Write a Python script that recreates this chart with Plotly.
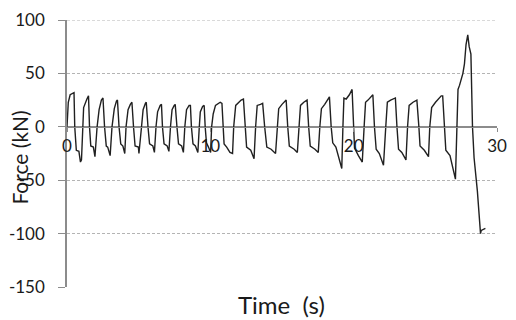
import plotly.graph_objects as go

# Time (s) and force (kN)
time_s = [
    0.00, 0.09, 0.22, 0.49, 0.54, 0.65, 0.83, 0.94, 1.01,
    1.08, 1.16, 1.39, 1.50, 1.57, 1.66, 1.84, 1.95,
    2.10, 2.24, 2.40, 2.51, 2.62, 2.74, 2.84, 3.01,
    3.14, 3.30, 3.45, 3.52, 3.63, 3.75, 3.90, 4.03,
    4.12, 4.26, 4.42, 4.53, 4.64, 4.75, 4.98, 5.02,
    5.20, 5.31, 5.47, 5.53, 5.65, 5.76, 5.99, 6.10,
    6.21, 6.32, 6.50, 6.59, 6.66, 6.77, 6.99, 7.11,
    7.22, 7.33, 7.48, 7.55, 7.67, 7.78, 8.00, 8.12,
    8.22, 8.34, 8.52, 8.61, 8.68, 8.79, 8.96, 9.13,
    9.23, 9.30, 9.46, 9.57, 9.64, 9.73, 9.87, 10.02,
    10.09, 10.20, 10.36, 10.69, 10.81, 10.87, 10.96, 11.14, 11.37, 11.55,
    11.63, 11.77, 12.15, 12.31, 12.44, 12.53, 12.82, 13.05,
    13.16, 13.27, 13.50, 13.65, 13.79, 13.94, 14.24, 14.55,
    14.68, 14.77, 15.00, 15.29, 15.40, 15.51, 15.85, 16.07,
    16.19, 16.29, 16.52, 16.75, 16.86, 16.97, 17.30, 17.53,
    17.64, 17.75, 17.98, 18.31, 18.43, 18.54, 18.76, 18.98, 19.17,
    19.25, 19.32, 19.48, 19.70, 19.89, 19.99, 20.06, 20.33, 20.60,
    20.73, 20.83, 21.00, 21.34, 21.45, 21.57, 21.79, 22.08,
    22.24, 22.35, 22.58, 22.91, 23.02, 23.13, 23.36, 23.65,
    23.76, 23.87, 24.14, 24.41, 24.55, 24.63, 24.93, 25.22,
    25.31, 25.44, 25.71, 26.11, 26.21, 26.34, 26.43, 26.72, 27.10,
    27.28, 27.39, 27.62, 27.73, 27.84, 27.96, 28.06, 28.18,
    28.29, 28.40, 28.63, 28.85, 28.90, 29.19,
]
force_kn = [
    0, 23, 30, 32, 0, -22, -23, -33, -31,
    0, 18, 26, 29, 0, -18, -19, -28,
    0, 16, 25, 27, 0, -18, -19, -27,
    0, 17, 24, 25, 0, -16, -18, -25,
    0, 16, 21, 23, 0, -18, -19, -25,
    0, 16, 22, 23, 0, -16, -18, -24,
    0, 14, 20, 21, 0, -16, -18, -23,
    0, 16, 20, 21, 0, -16, -18, -24,
    0, 16, 20, 20, 0, -16, -18, -24,
    0, 14, 19, 20, 0, -15, -19, -24,
    0, 12, 20, 23, 22, 0, -16, -19, -24, -25,
    0, 20, 25, 26, 0, -19, -22, -30,
    0, 20, 21, 22, 0, -19, -21, -25,
    0, 17, 21, 25, 0, -18, -21, -24,
    0, 20, 23, 25, 0, -18, -21, -24,
    0, 17, 21, 28, 0, -15, -19, -30, -39,
    0, 27, 26, 30, 35, 0, -20, -27, -33,
    0, 23, 25, 30, 0, -21, -25, -36,
    0, 23, 25, 27, 0, -21, -24, -31,
    0, 20, 23, 25, 0, -18, -22, -28,
    0, 18, 23, 29, 29, 0, -22, -27, -49,
    35, 39, 50, 59, 77, 86, 75, 68,
    0, -29, -60, -100, -97, -95,
]

x_ticks = [0, 10, 20, 30]
y_ticks = [-150, -100, -50, 0, 50, 100]
y_top = 100

AXIS_GREY = "#8c8c8c"
GRID_GREY = "#b4b4b4"
FONT = "Lato"

fig = go.Figure()
fig.add_trace(go.Scatter(
    x=time_s, y=force_kn, mode="lines",
    line=dict(color="#202020", width=1.4),
    showlegend=False, hoverinfo="skip",
))

# top gridline (Plotly drops the gridline that sits on the plot edge)
fig.add_shape(type="line", xref="paper", x0=0, x1=1, yref="y", y0=y_top, y1=y_top,
              line=dict(color=GRID_GREY, width=1, dash="3px,2px"), layer="below")

fig.update_layout(
    width=516, height=320,
    margin=dict(l=61, r=9, t=10, b=33),
    paper_bgcolor="white", plot_bgcolor="white",
    font=dict(family=FONT, color="#1a1a1a", size=17),
    xaxis=dict(
        range=[0, 30], tickvals=x_ticks, ticktext=[str(v) for v in x_ticks],
        anchor="free", position=0.6,
        showgrid=False, zeroline=False,
        showline=True, linecolor=AXIS_GREY, linewidth=1.3,
        ticks="outside", ticklen=4, tickcolor=AXIS_GREY,
        tickfont=dict(family=FONT, size=17, color="#1a1a1a"),
        ticklabelstandoff=0, ticklabeloverflow="allow",
    ),
    yaxis=dict(
        range=[-150, y_top], tickvals=y_ticks, ticktext=[str(v) for v in y_ticks],
        showgrid=True, gridcolor=GRID_GREY, griddash="3px,2px", gridwidth=1,
        zeroline=True, zerolinecolor=AXIS_GREY, zerolinewidth=1.3,
        showline=True, linecolor=AXIS_GREY, linewidth=1.5,
        ticks="outside", ticklen=7, tickcolor=AXIS_GREY,
        tickfont=dict(family=FONT, size=17, color="#1a1a1a"),
        ticklabelstandoff=10, ticklabeloverflow="allow",
    ),
    annotations=[
        dict(text="Time  (s)", xref="paper", yref="paper",
             x=(283 - 61) / 446, y=(287 - 305) / 277,
             xanchor="center", yanchor="middle", showarrow=False,
             font=dict(family=FONT, size=24, color="#1a1a1a")),
        dict(text="Force (kN)", xref="paper", yref="paper",
             x=(12 - 61) / 446, y=(287 - 153) / 277, textangle=-90,
             xanchor="center", yanchor="middle", showarrow=False,
             font=dict(family=FONT, size=21, color="#1a1a1a")),
    ],
)

fig.write_html(
    "out.html",
    config={"displayModeBar": False},
    post_script="document.body.style.margin='0';",
)
